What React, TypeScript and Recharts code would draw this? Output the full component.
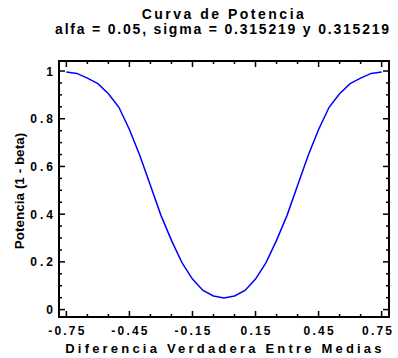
import React from "react";
import { LineChart, Line, XAxis, YAxis } from "recharts";

// diferencia verdadera entre medias
const diffs = [
  -0.75, -0.7, -0.65, -0.6, -0.55, -0.5, -0.45, -0.4, -0.35, -0.3, -0.25, -0.2,
  -0.15, -0.1, -0.05, 0, 0.05, 0.1, 0.15, 0.2, 0.25, 0.3, 0.35, 0.4, 0.45, 0.5,
  0.55, 0.6, 0.65, 0.7, 0.75,
];
// potencia (1 - beta)
const power = [
  0.996, 0.99, 0.97, 0.947, 0.905, 0.848, 0.755, 0.645, 0.52, 0.395, 0.29,
  0.197, 0.128, 0.08, 0.057, 0.049, 0.057, 0.08, 0.128, 0.197, 0.29, 0.395,
  0.52, 0.645, 0.755, 0.848, 0.905, 0.947, 0.97, 0.99, 0.996,
];

const xTicks = [
  -0.75, -0.65, -0.55, -0.45, -0.35, -0.25, -0.15, -0.05, 0.05, 0.15, 0.25,
  0.35, 0.45, 0.55, 0.65, 0.75,
];
const xMajor = [-0.75, -0.45, -0.15, 0.15, 0.45, 0.75];
const yTicks = [
  0, 0.05, 0.1, 0.15, 0.2, 0.25, 0.3, 0.35, 0.4, 0.45, 0.5, 0.55, 0.6, 0.65,
  0.7, 0.75, 0.8, 0.85, 0.9, 0.95, 1,
];
const yMajor = [0, 0.2, 0.4, 0.6, 0.8, 1];

const data = diffs.map((d, i) => ({ d, p: power[i] }));

const W = 398;
const H = 358;
const M = { top: 61, right: 9, bottom: 0, left: 0 };
const X_AXIS_H = 41;
const Y_AXIS_W = 59;
const PLOT_W = W - M.left - M.right - Y_AXIS_W;
const PLOT_H = H - M.top - M.bottom - X_AXIS_H;

const FONT = "'Liberation Sans', Arial, sans-serif";
const isIn = (arr: number[], v: number) => arr.some((a) => Math.abs(a - v) < 1e-9);

// bottom axis tick: inward mark at bottom and mirrored at top, label below
const XTick = (props: any) => {
  const { x, y, payload } = props;
  const major = isIn(xMajor, payload.value);
  const len = major ? 6 : 3;
  const top = y - PLOT_H;
  // last label is nudged left so it stays inside the picture
  const nudge = payload.value === xMajor[xMajor.length - 1] ? -3.5 : 1.1;
  return (
    <g>
      <line x1={x} x2={x} y1={y} y2={y - len} stroke="#000" strokeWidth={1.5} />
      <line x1={x} x2={x} y1={top} y2={top + len} stroke="#000" strokeWidth={1.5} />
      {major && (
        <text x={x + nudge} y={y + 18} textAnchor="middle" fontFamily={FONT} fontWeight="bold"
          fontSize={12} letterSpacing={2.2} fill="#000">
          {String(payload.value)}
        </text>
      )}
    </g>
  );
};

const YTick = (props: any) => {
  const { x, y, payload } = props;
  const major = isIn(yMajor, payload.value);
  const len = major ? 6 : 3;
  const right = x + PLOT_W;
  return (
    <g>
      <line x1={x} x2={x + len} y1={y} y2={y} stroke="#000" strokeWidth={1.5} />
      <line x1={right} x2={right - len} y1={y} y2={y} stroke="#000" strokeWidth={1.5} />
      {major && (
        <text x={x - 3} y={y + 4.5} textAnchor="end" fontFamily={FONT} fontWeight="bold"
          fontSize={12} letterSpacing={3} fill="#000">
          {String(payload.value)}
        </text>
      )}
    </g>
  );
};

export default function App() {
  return (
    <div style={{ position: "fixed", left: 0, top: 0, width: W, height: H, background: "#fff" }}>
      <LineChart width={W} height={H} data={data} margin={M}>
        <XAxis dataKey="d" type="number" domain={[-0.785, 0.785]} ticks={xTicks}
          interval={0} height={X_AXIS_H} tickSize={0} tickMargin={0} tickLine={false}
          axisLine={false} tick={<XTick />} allowDataOverflow />
        <YAxis type="number" domain={[-0.031, 1.042]} ticks={yTicks} interval={0}
          width={Y_AXIS_W} tickSize={0} tickMargin={0} tickLine={false}
          axisLine={false} tick={<YTick />} allowDataOverflow />
        <Line type="linear" dataKey="p" stroke="#0000ff" strokeWidth={1.5}
          dot={false} isAnimationActive={false} />
      </LineChart>
      <svg width={W} height={H} style={{ position: "absolute", left: 0, top: 0, pointerEvents: "none" }}>
        <rect x={M.left + Y_AXIS_W} y={M.top} width={PLOT_W} height={PLOT_H}
          fill="none" stroke="#000" strokeWidth={2} />
        <g fontFamily={FONT} fontWeight="bold" fill="#000">
          <text x={224} y={18.5} textAnchor="middle" fontSize={14} letterSpacing={2.5}>
            Curva de Potencia
          </text>
          <text x={223} y={34} textAnchor="middle" fontSize={14} letterSpacing={1.8}>
            alfa = 0.05, sigma = 0.315219 y 0.315219
          </text>
          <text x={225} y={353} textAnchor="middle" fontSize={13} letterSpacing={3.2}>
            Diferencia Verdadera Entre Medias
          </text>
          <text x={23.5} y={191} textAnchor="middle" fontSize={13.5} transform="rotate(-90 23.5 191)">
            Potencia (1 - beta)
          </text>
        </g>
      </svg>
    </div>
  );
}
